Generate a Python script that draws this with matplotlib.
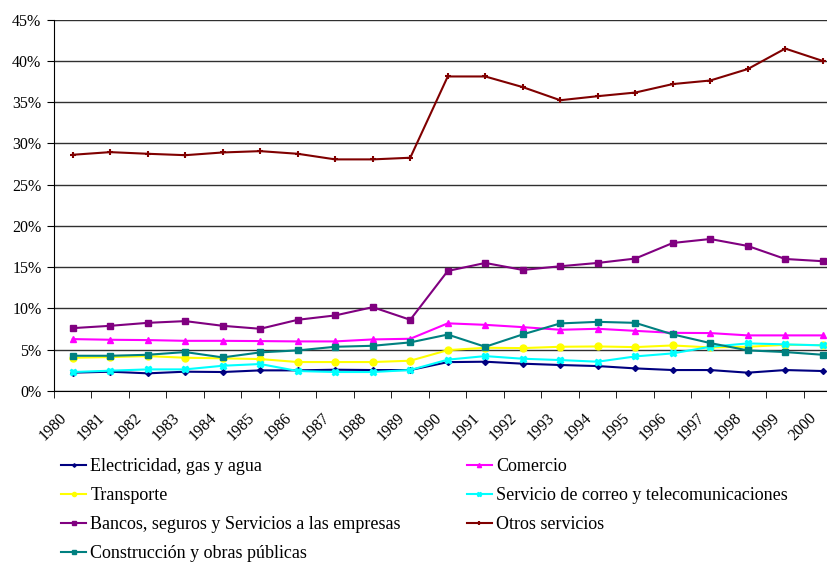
import matplotlib.pyplot as plt
import matplotlib.ticker as mticker
import numpy as np

plt.rcParams['font.family'] = ['Liberation Serif', 'DejaVu Serif']

years = [str(y) for y in range(1980, 2001)]

electricidad = [2.22, 2.34, 2.14, 2.34, 2.30, 2.50, 2.50, 2.58, 2.54, 2.54, 3.50,
                3.55, 3.31, 3.15, 3.02, 2.74, 2.54, 2.54, 2.22, 2.54, 2.42]
comercio = [6.29, 6.21, 6.17, 6.08, 6.08, 6.05, 6.01, 6.01, 6.25, 6.33, 8.20,
            8.02, 7.74, 7.42, 7.54, 7.29, 7.05, 7.02, 6.74, 6.74, 6.74]
transporte = [4.03, 4.11, 4.23, 4.03, 3.96, 3.87, 3.51, 3.51, 3.51, 3.67, 4.95,
              5.24, 5.20, 5.36, 5.40, 5.32, 5.52, 5.28, 5.36, 5.60, 5.56]
correo = [2.30, 2.46, 2.62, 2.62, 3.06, 3.27, 2.42, 2.30, 2.30, 2.54, 3.80,
          4.23, 3.91, 3.75, 3.55, 4.19, 4.56, 5.36, 5.77, 5.65, 5.53]
bancos = [7.62, 7.90, 8.26, 8.47, 7.90, 7.54, 8.63, 9.16, 10.16, 8.63, 14.55,
          15.52, 14.67, 15.12, 15.52, 16.05, 17.94, 18.42, 17.58, 16.00, 15.73]
otros = [28.63, 28.95, 28.75, 28.58, 28.91, 29.07, 28.75, 28.07, 28.07, 28.27, 38.12,
         38.12, 36.83, 35.24, 35.73, 36.17, 37.20, 37.63, 39.02, 41.50, 40.00]
construccion = [4.27, 4.27, 4.39, 4.72, 4.07, 4.68, 4.92, 5.36, 5.48, 5.89, 6.84,
                5.36, 6.86, 8.19, 8.38, 8.26, 6.86, 5.81, 4.92, 4.72, 4.39]

series = [
    ('Electricidad, gas y agua', electricidad, '#000080', 'D', 3),
    ('Comercio', comercio, '#FF00FF', '^', 5),
    ('Transporte', transporte, '#FFFF00', 'o', 5),
    ('Servicio de correo y telecomunicaciones', correo, '#00FFFF', 'X', 5),
    ('Bancos, seguros y Servicios a las empresas', bancos, '#800080', 's', 5),
    ('Otros servicios', otros, '#800000', '+', 4),
    ('Construcción y obras públicas', construccion, '#008080', 's', 5),
]

fig = plt.figure(figsize=(8.28, 5.62), dpi=100)
ax = fig.add_axes([54 / 828, 1 - 391 / 562, 787.5 / 828, (391 - 19.7) / 562])

x = np.arange(len(years))
handles = {}
for label, vals, color, marker, ms in series:
    line, = ax.plot(x, vals, color=color, lw=1.5, marker=marker, markersize=ms,
                    markeredgewidth=1 if marker != '+' else 1.5, label=label)
    handles[label] = line

ax.set_xlim(-0.5, 20.5)
ax.set_ylim(0, 45)
ax.yaxis.set_major_locator(mticker.MultipleLocator(5))
ax.yaxis.set_major_formatter(mticker.FuncFormatter(lambda v, p: '{:.0f}%'.format(v)))
ax.grid(axis='y', color='#303030', lw=1)
ax.set_axisbelow(True)

# year labels sit slightly left of each category centre, like the Excel original
ax.set_xticks(x - 0.22)
ax.set_xticklabels(years, rotation=45, ha='right', va='center', rotation_mode='anchor')
ax.set_xticks(np.arange(-0.5, 21, 1), minor=True)
ax.tick_params(axis='x', which='major', length=0, pad=18, labelsize=11.5)
ax.tick_params(axis='x', which='minor', length=5, direction='out', color='black')
ax.tick_params(axis='y', length=5, direction='out', labelsize=11.5, pad=4)

for side in ['top', 'right']:
    ax.spines[side].set_visible(False)
ax.spines['left'].set_color('black')
ax.spines['bottom'].set_color('black')

order = ['Electricidad, gas y agua', 'Transporte',
         'Bancos, seguros y Servicios a las empresas', 'Construcción y obras públicas',
         'Comercio', 'Servicio de correo y telecomunicaciones', 'Otros servicios']
fig.legend([handles[k] for k in order], order, loc='upper left',
           bbox_to_anchor=(61 / 828, 1 - 458 / 562), ncol=2, frameon=False,
           fontsize=13, handlelength=1.4, handletextpad=0.22, labelspacing=0.67,
           columnspacing=3.65, markerscale=0.6, borderpad=0, borderaxespad=0)

fig.savefig('out.png', dpi=100)
